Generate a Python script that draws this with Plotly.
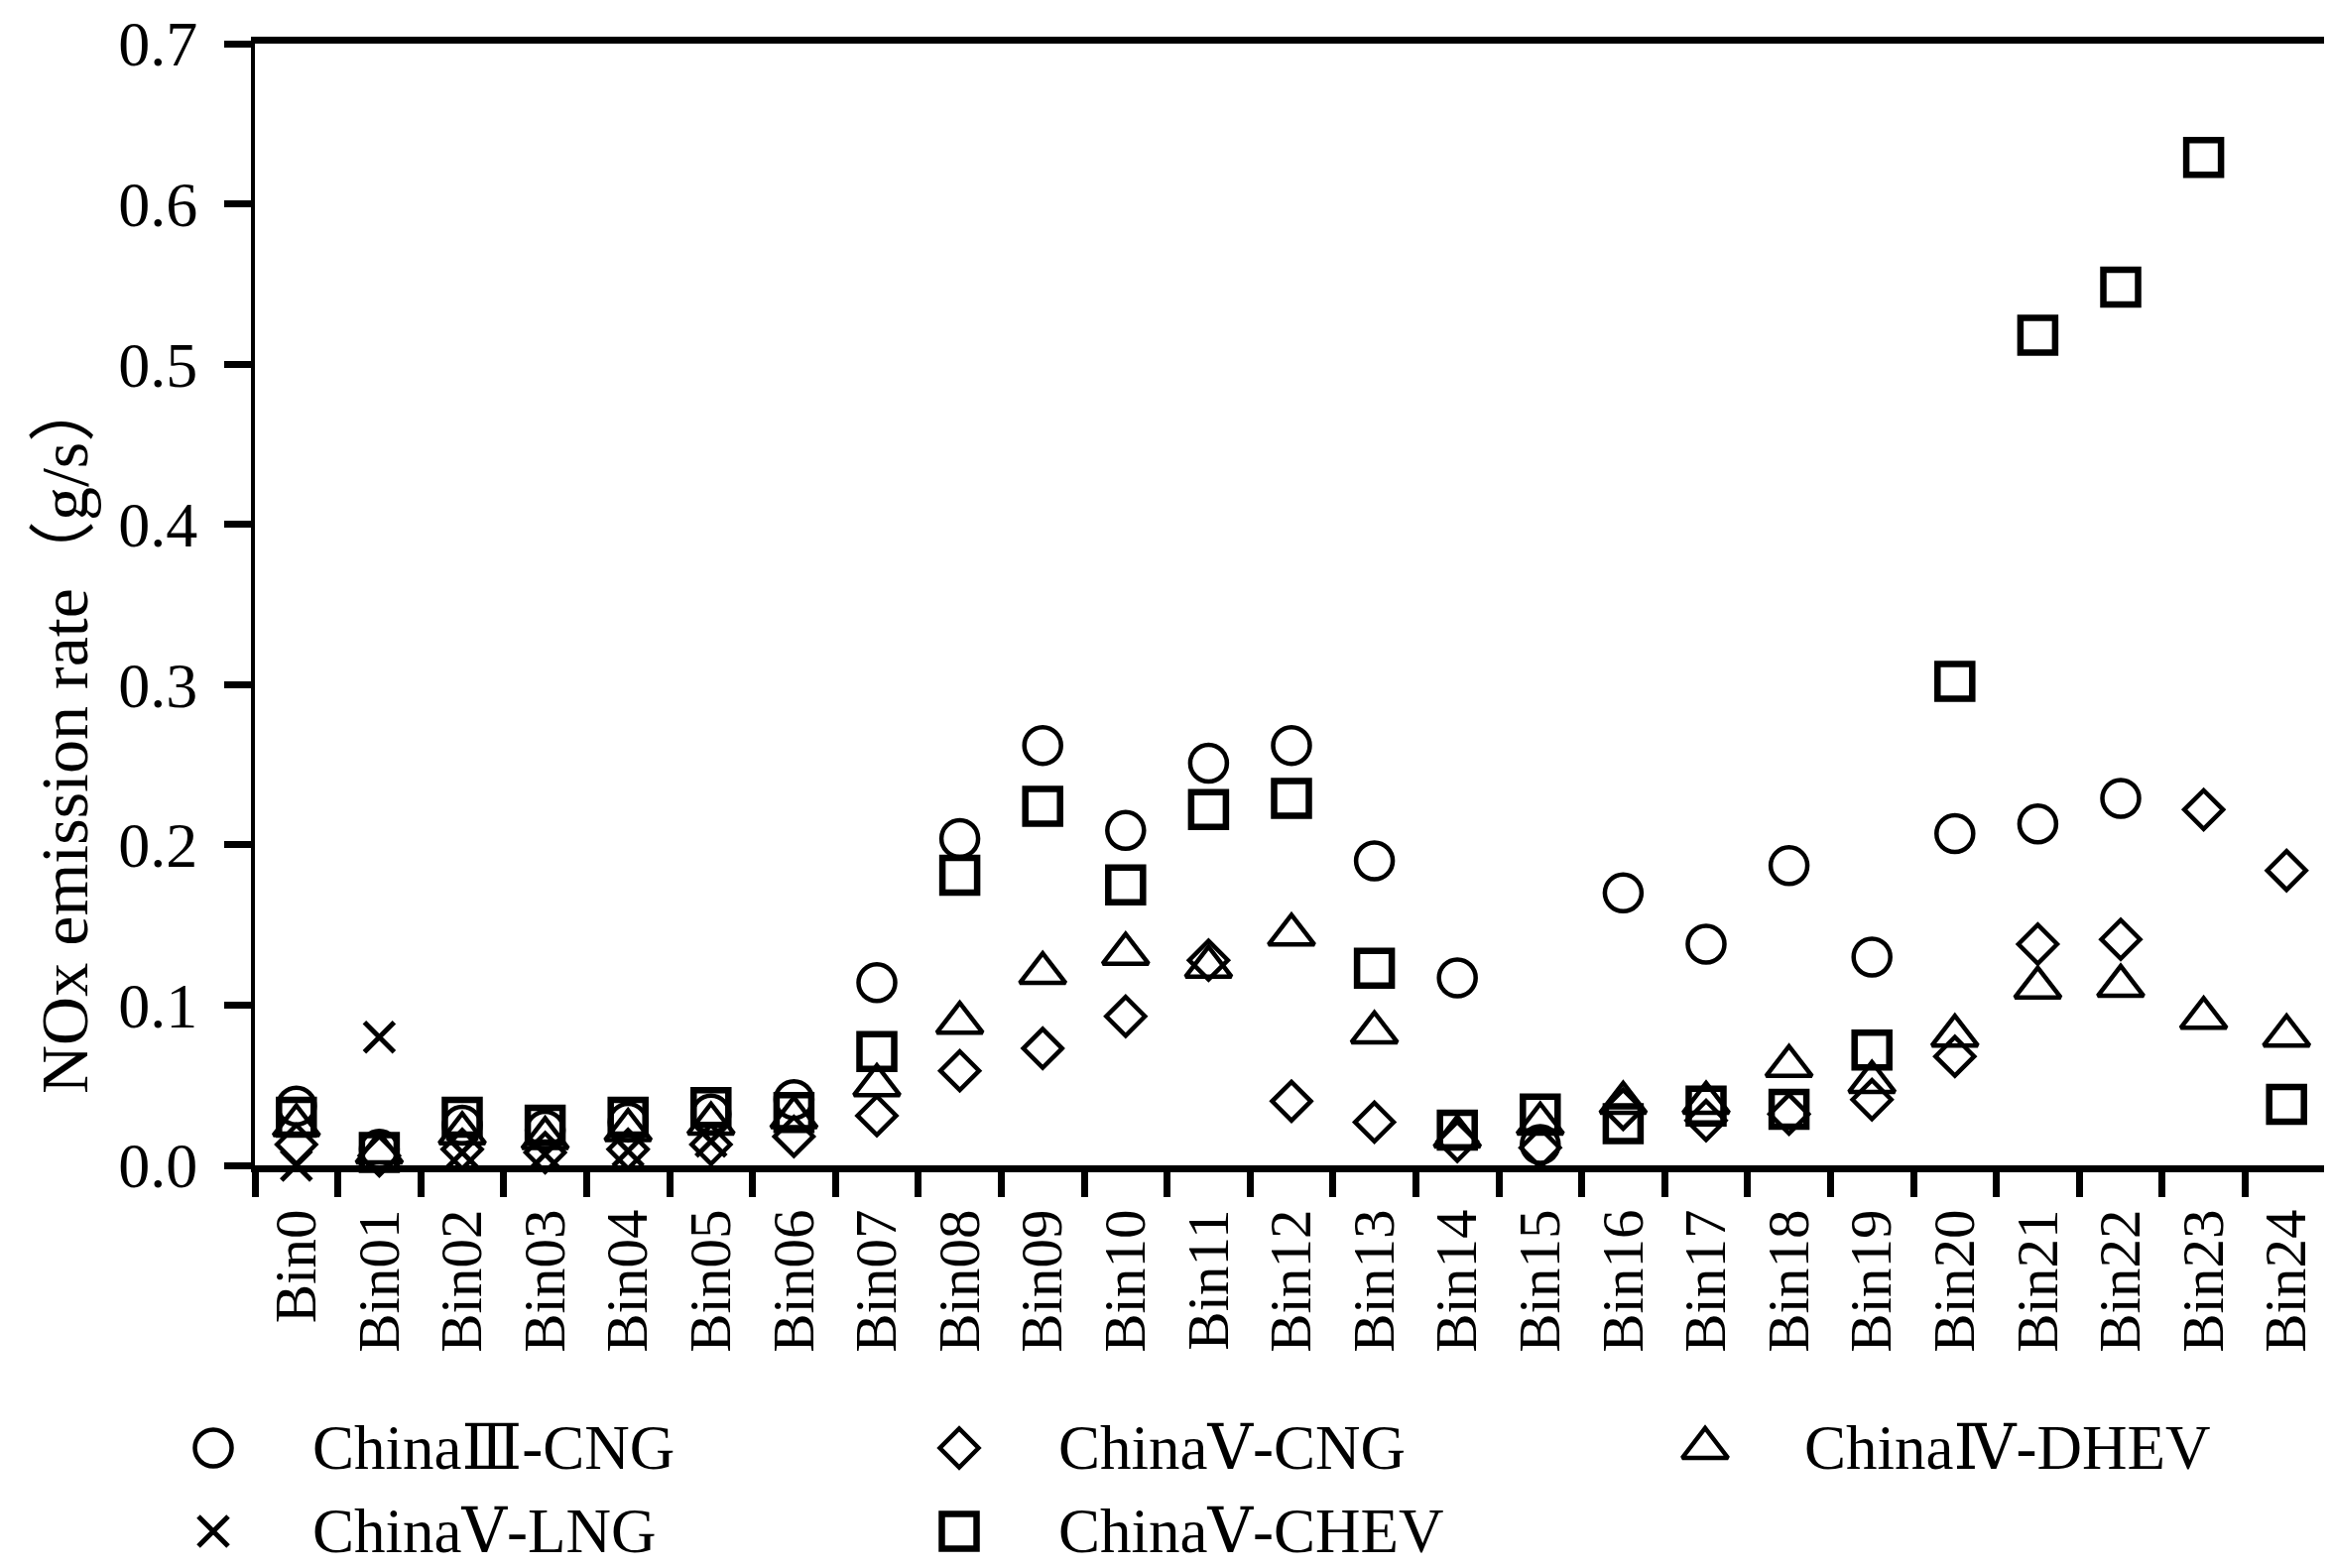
import plotly.graph_objects as go

bins = ["Bin0", "Bin01", "Bin02", "Bin03", "Bin04", "Bin05", "Bin06", "Bin07", "Bin08", "Bin09",
        "Bin10", "Bin11", "Bin12", "Bin13", "Bin14", "Bin15", "Bin16", "Bin17", "Bin18", "Bin19",
        "Bin20", "Bin21", "Bin22", "Bin23", "Bin24"]

china3_cng = [0.037, 0.010, 0.025, 0.022, 0.027, 0.032, 0.041, 0.114, 0.204, 0.262,
              0.209, 0.251, 0.262, 0.190, 0.117, 0.013, 0.170, 0.138, 0.187, 0.130,
              0.207, 0.213, 0.229, None, None]
china5_cng = [0.013, 0.006, 0.010, 0.008, 0.010, 0.013, 0.018, 0.031, 0.059, 0.073,
              0.093, 0.128, 0.040, 0.027, 0.015, 0.011, 0.035, 0.028, 0.032, 0.041,
              0.068, 0.138, 0.141, 0.222, 0.184]
china4_dhev = [0.025, 0.008, 0.020, 0.017, 0.022, 0.026, 0.030, 0.050, 0.089, 0.120,
               0.132, 0.124, 0.144, 0.083, 0.018, 0.026, 0.039, 0.039, 0.062, 0.052,
               0.081, 0.111, 0.112, 0.092, 0.081]
china5_lng = [0.000, 0.080, 0.008, 0.007, 0.009, 0.015, None, None, None, None,
              None, None, None, None, None, None, None, None, None, None,
              None, None, None, None, None]
china5_chev = [0.030, 0.008, 0.030, 0.025, 0.030, 0.036, 0.033, 0.071, 0.181, 0.224,
               0.175, 0.222, 0.229, 0.123, 0.022, 0.032, 0.026, 0.037, 0.035, 0.072,
               0.302, 0.518, 0.548, 0.629, 0.038]

names = ["ChinaⅢ-CNG", "ChinaⅤ-CNG", "ChinaⅣ-DHEV", "ChinaⅤ-LNG", "ChinaⅤ-CHEV"]
# legend grid slot (column, row) for each series
legend_col = [0, 1, 2, 0, 1]
legend_row = [0, 0, 0, 1, 1]

FONT = "Liberation Serif, DejaVu Serif, Noto Sans CJK SC, serif"

series = [
    (china3_cng, "circle-open", 37, 4.5),
    (china5_cng, "diamond-open", 30, 4.5),
    (china4_dhev, "triangle-up-open", 40, 4.5),
    (china5_lng, "x-thin-open", 30, 5),
    (china5_chev, "square-open", 35, 6.5),
]

W, H = 2351, 1581
ML, MR, MT, MB = 100, 12, 36, 10
plot_w = W - ML - MR
plot_h = H - MT - MB
x_start = (249 - ML) / plot_w          # main plot starts at 249 px
y_start = (H - MB - 1167) / plot_h     # main x axis at 1167 px

fig = go.Figure()
for i, (vals, sym, size, lw) in enumerate(series):
    mk = dict(symbol=sym, size=size, color="black", line=dict(color="black", width=lw))
    fig.add_trace(go.Scatter(
        x=bins, y=vals, mode="markers", name=names[i], cliponaxis=False,
        marker=mk, showlegend=False,
    ))
    # legend key drawn on a hidden helper subplot below the chart
    fig.add_trace(go.Scatter(
        x=[legend_col[i]], y=[-legend_row[i]], mode="markers", xaxis="x2", yaxis="y2",
        cliponaxis=False, marker=mk, showlegend=False, hoverinfo="skip",
    ))
    fig.add_annotation(
        text=names[i], xref="x2", yref="y2", x=legend_col[i], y=-legend_row[i],
        xanchor="left", yanchor="middle", xshift=98, showarrow=False,
        font=dict(family=FONT, size=63, color="black"),
    )

fig.update_layout(
    width=W, height=H,
    margin=dict(l=ML, r=MR, t=MT, b=MB),
    plot_bgcolor="white", paper_bgcolor="white",
    font=dict(family=FONT, color="black", size=60),
    showlegend=False,
    xaxis=dict(
        domain=[x_start, 1], anchor="y",
        type="category", categoryorder="array", categoryarray=bins,
        range=[-0.5, 24.5], tickson="boundaries", automargin=False,
        ticks="outside", ticklen=25, tickwidth=7, tickcolor="black",
        tickangle=-90, tickfont=dict(family=FONT, size=59, color="black"),
        ticklabelstandoff=14,
        showline=True, linewidth=7, linecolor="black", mirror=True,
        showgrid=False, zeroline=False,
    ),
    yaxis=dict(
        domain=[y_start, 1], anchor="x",
        range=[0, 0.7], dtick=0.1, tick0=0, tickformat=".1f", automargin=False,
        ticks="outside", ticklen=27, tickwidth=7, tickcolor="black",
        tickfont=dict(family=FONT, size=64, color="black"),
        ticklabelstandoff=14,
        showline=True, linewidth=4, linecolor="black", mirror=True,
        showgrid=False, zeroline=False,
    ),
    xaxis2=dict(domain=[0, 1], anchor="y2", range=[-0.1423, 2.8351], visible=False),
    yaxis2=dict(domain=[0, 0.2], anchor="x2", range=[-1.4167, 2.238], visible=False),
)

fig.add_shape(type="line", xref="x domain", yref="y domain", x0=1, x1=1, y0=0, y1=1,
              line=dict(color="black", width=7))

fig.add_annotation(
    text="NOx emission rate（g/s）", xref="paper", yref="paper",
    x=(57 - ML) / plot_w, y=(H - MB - 733) / plot_h, xanchor="center", yanchor="middle",
    textangle=-90, showarrow=False,
    font=dict(family=FONT, size=68, color="black"),
)

fig.write_html("out.html")
